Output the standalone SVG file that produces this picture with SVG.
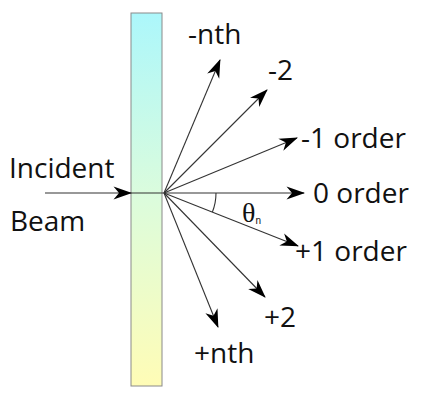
<svg xmlns="http://www.w3.org/2000/svg" width="422" height="398" viewBox="0 0 422 398">
  <defs>
    <linearGradient id="plateGrad" x1="0" y1="0" x2="0" y2="1">
      <stop offset="0" stop-color="#acf7fb"/>
      <stop offset="0.5" stop-color="#dcfcdc"/>
      <stop offset="1" stop-color="#fffcb6"/>
    </linearGradient>
    <marker id="arrow" markerUnits="userSpaceOnUse" markerWidth="20" markerHeight="14" refX="18" refY="7" orient="auto" viewBox="0 0 20 14">
      <path d="M19,7 L0.5,0.5 L6,7 L0.5,13.5 Z" fill="#000"/>
    </marker>
    <style>
      .ray { stroke: #333; stroke-width: 1.1; fill: none; }
      .lbl { font-family: "Open Sans", "DejaVu Sans", sans-serif; font-size: 28px; fill: #111; }
    </style>
  </defs>
  <rect width="422" height="398" fill="#fff"/>

  <g id="grating">
    <rect x="131" y="13" width="31" height="373" fill="url(#plateGrad)" stroke="#8a8a8a" stroke-width="1"/>
  </g>

  <g id="connectors">
    <line class="ray" x1="45" y1="193" x2="131" y2="193" marker-end="url(#arrow)"/>
    <line class="ray" x1="131" y1="193" x2="164" y2="193"/>
    <line class="ray" x1="164" y1="193" x2="220" y2="60" marker-end="url(#arrow)"/>
    <line class="ray" x1="164" y1="193" x2="267" y2="90" marker-end="url(#arrow)"/>
    <line class="ray" x1="164" y1="193" x2="297" y2="138" marker-end="url(#arrow)"/>
    <line class="ray" x1="164" y1="193" x2="304" y2="193" marker-end="url(#arrow)"/>
    <line class="ray" x1="164" y1="193" x2="298" y2="246" marker-end="url(#arrow)"/>
    <line class="ray" x1="164" y1="193" x2="265" y2="297" marker-end="url(#arrow)"/>
    <line class="ray" x1="164" y1="193" x2="218" y2="327" marker-end="url(#arrow)"/>
    <path class="ray" d="M216,193 A52,52 0 0 1 212.4,212"/>
  </g>

  <g id="labels">
    <text class="lbl" x="9" y="178">Incident</text>
    <text class="lbl" x="10" y="231">Beam</text>
    <text class="lbl" x="188" y="44">-nth</text>
    <text class="lbl" x="268" y="80">-2</text>
    <text class="lbl" x="301" y="148">-1 order</text>
    <text class="lbl" x="313" y="203">0 order</text>
    <text class="lbl" x="295" y="261">+1 order</text>
    <text class="lbl" x="264" y="327">+2</text>
    <text class="lbl" x="194" y="363">+nth</text>
    <text x="242" y="222" font-family="Liberation Serif, serif" font-size="28" fill="#111">θ<tspan font-family="Liberation Sans, sans-serif" font-size="10" dy="2">n</tspan></text>
  </g>
</svg>
